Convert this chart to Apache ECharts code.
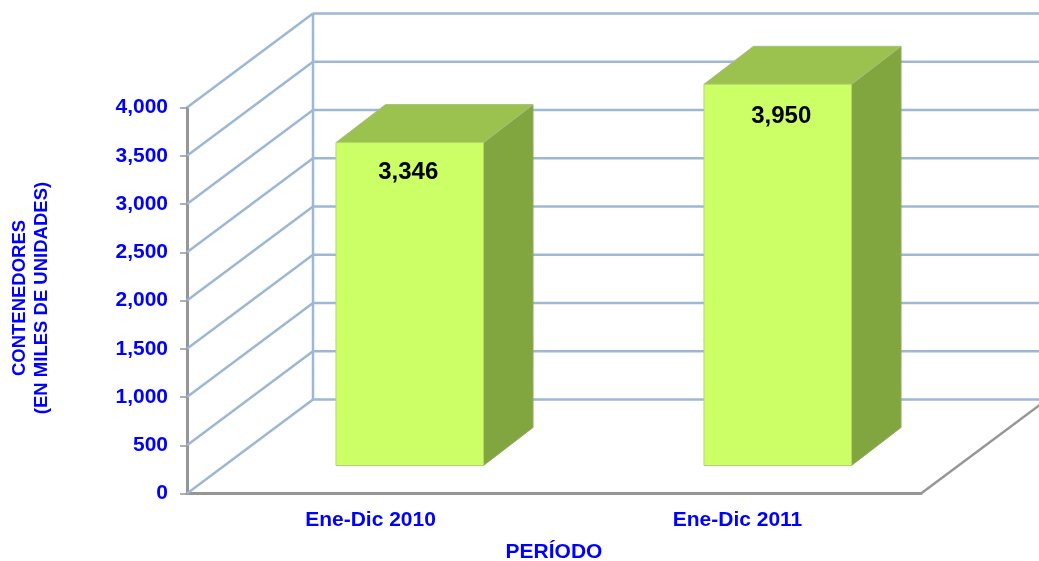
<!DOCTYPE html>
<html>
<head>
<meta charset="utf-8">
<style>html,body{margin:0;padding:0;background:#fff}#c{width:1039px;height:561px}</style>
<script src="https://cdn.jsdelivr.net/npm/echarts@6/dist/echarts.min.js"></script>
</head>
<body>
<div id="c"></div>
<script>
const categories = ['Ene-Dic 2010', 'Ene-Dic 2011'];
const values = [3346, 3950];
const valueLabels = ['3,346', '3,950'];
const gridTicks = [0, 500, 1000, 1500, 2000, 2500, 3000, 3500, 4000];

const FONT = '"Liberation Sans", Arial, sans-serif';
const BLUE = '#0000FF';
const WALL = '#9DB7D5';
const AXIS = '#969696';
const WALL_DX = 126, WALL_DY = -94;   // wall depth projected on the page
const BAR_DX = 49.5, BAR_DY = -38;    // bar depth projected on the page
const LABEL_NUDGE = [[-1.5, 30], [3.5, 32.5]]; // label offset from the front face's top centre

function renderWall(params, api) {
  const v = api.value(0);
  const cs = params.coordSys;
  const y = api.coord([0, v])[1];
  const x0 = cs.x, x1 = cs.x + cs.width;
  const style = { stroke: WALL, lineWidth: 2.5, fill: null };
  const children = [
    { type: 'line', shape: { x1: x0, y1: y, x2: x0 + WALL_DX, y2: y + WALL_DY }, style },
    { type: 'line', shape: { x1: x0 + WALL_DX, y1: y + WALL_DY, x2: x1 + WALL_DX, y2: y + WALL_DY }, style }
  ];
  if (v === 0) {
    const top = api.coord([0, gridTicks[gridTicks.length - 1]])[1];
    children.push(
      { type: 'line', shape: { x1: x0 + WALL_DX, y1: y + WALL_DY, x2: x0 + WALL_DX, y2: top + WALL_DY }, style },
      { type: 'line', shape: { x1: x1, y1: y, x2: x1 + WALL_DX, y2: y + WALL_DY }, style: { stroke: AXIS, lineWidth: 2.5 } }
    );
  }
  return { type: 'group', children };
}

function renderBar(params, api) {
  const idx = api.value(0);
  const top = api.coord([idx, api.value(1)]);
  const base = api.coord([idx, 0]);
  const band = api.size([1, 0])[0];
  const w = band * 0.402;
  const shiftX = (WALL_DX - BAR_DX) / 2 + 1 + idx, shiftY = (WALL_DY - BAR_DY) / 2;
  const l = top[0] - w / 2 + shiftX, r = l + w;
  const t = top[1] + shiftY, b = base[1] + shiftY;
  return {
    type: 'group',
    children: [
      { type: 'polygon', shape: { points: [[r, t], [r + BAR_DX, t + BAR_DY], [r + BAR_DX, b + BAR_DY], [r, b]] },
        style: { fill: '#82A63F', stroke: '#90AD5A', lineWidth: 1 } },
      { type: 'polygon', shape: { points: [[l, t], [l + BAR_DX, t + BAR_DY], [r + BAR_DX, t + BAR_DY], [r, t]] },
        style: { fill: '#9BC24F', stroke: '#A9BD80', lineWidth: 1 } },
      { type: 'rect', shape: { x: l, y: t, width: w, height: b - t },
        style: { fill: '#CCFF66', stroke: '#B5D66C', lineWidth: 1 } },
      { type: 'text', x: (l + r) / 2 + LABEL_NUDGE[idx][0], y: t + LABEL_NUDGE[idx][1],
        style: { text: valueLabels[idx], fill: '#000', font: 'bold 24px ' + FONT, textAlign: 'center', textVerticalAlign: 'middle' } }
    ]
  };
}

const chart = echarts.init(document.getElementById('c'), null, { renderer: 'canvas' });
chart.setOption({
  animation: false,
  backgroundColor: '#fff',
  grid: { left: 187, right: 118, top: 107.5, bottom: 67.5, containLabel: false, outerBoundsMode: 'none' },
  xAxis: {
    type: 'category',
    data: categories,
    boundaryGap: true,
    name: 'PERÍODO',
    nameLocation: 'middle',
    nameGap: 48,
    nameTextStyle: { color: BLUE, fontFamily: FONT, fontWeight: 'bold', fontSize: 21 },
    axisLine: { lineStyle: { color: AXIS, width: 3 } },
    axisTick: { length: 6, lineStyle: { color: AXIS, width: 1.5 } },
    axisLabel: { color: BLUE, fontFamily: FONT, fontWeight: 'bold', fontSize: 21, margin: 16 },
    splitLine: { show: false }
  },
  yAxis: {
    type: 'value',
    min: 0, max: 4000, interval: 500,
    name: 'CONTENEDORES\n(EN MILES DE UNIDADES)',
    nameLocation: 'middle',
    nameRotate: 90,
    nameGap: 128,
    nameTextStyle: { color: BLUE, fontFamily: FONT, fontWeight: 'bold', fontSize: 18.5, lineHeight: 22, align: 'center', padding: [0, 0, 6, 5] },
    axisLine: { show: true, lineStyle: { color: AXIS, width: 3 } },
    axisTick: { show: true, length: 7, lineStyle: { color: AXIS, width: 1.5 } },
    axisLabel: { color: BLUE, fontFamily: FONT, fontWeight: 'bold', fontSize: 21, margin: 19, padding: [5, 0, 0, 0],
      formatter: v => v.toLocaleString('en-US') },
    splitLine: { show: false }
  },
  series: [
    { type: 'custom', coordinateSystem: 'cartesian2d', clip: false, z: 1, silent: true,
      encode: { y: 0 }, renderItem: renderWall, data: gridTicks.map(v => [v]) },
    { type: 'custom', coordinateSystem: 'cartesian2d', clip: false, z: 3, silent: true,
      encode: { x: 0, y: 1 }, renderItem: renderBar, data: values.map((v, i) => [i, v]) }
  ]
});
</script>
</body>
</html>
